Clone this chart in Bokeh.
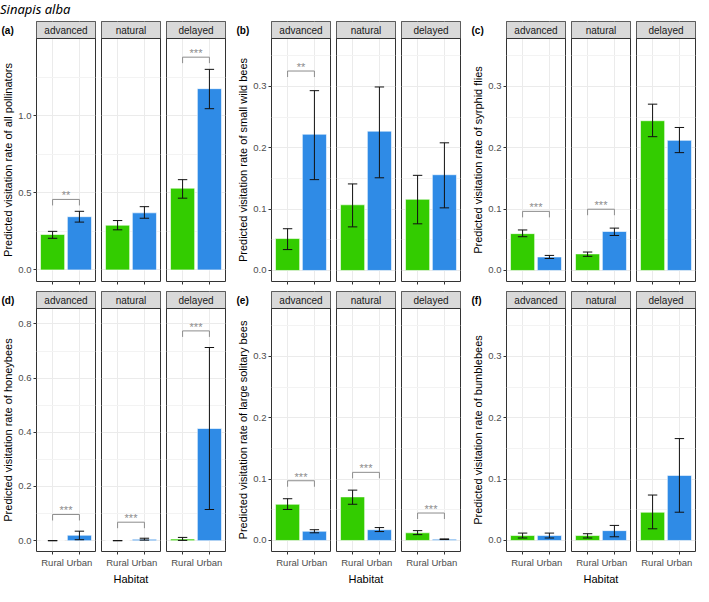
import math
from bokeh.plotting import figure
from bokeh.layouts import row, column
from bokeh.models import (Range1d, FixedTicker, Div, ColumnDataSource,
                          PrintfTickFormatter)
from bokeh.embed import file_html
from bokeh.resources import INLINE
from bokeh.core.properties import value

# ---------------- data ----------------
phases = ["advanced", "natural", "delayed"]
habitats = ["Rural", "Urban"]
colors = ["#33CC00", "#2F8BE6"]

# order: advanced-Rural, advanced-Urban, natural-Rural, natural-Urban, delayed-Rural, delayed-Urban
a_mean = [0.23, 0.345, 0.29, 0.37, 0.53, 1.175]
a_low = [0.205, 0.31, 0.26, 0.335, 0.465, 1.045]
a_high = [0.25, 0.38, 0.32, 0.41, 0.585, 1.30]
a_sig_phase = ["advanced", "delayed"]
a_sig_text = ["**", "***"]
a_sig_y = [0.457, 1.379]

b_mean = [0.052, 0.222, 0.107, 0.227, 0.116, 0.156]
b_low = [0.034, 0.148, 0.071, 0.151, 0.076, 0.102]
b_high = [0.068, 0.293, 0.141, 0.299, 0.155, 0.208]
b_sig_phase = ["advanced"]
b_sig_text = ["**"]
b_sig_y = [0.325]

c_mean = [0.060, 0.022, 0.027, 0.0635, 0.244, 0.212]
c_low = [0.055, 0.0195, 0.023, 0.057, 0.218, 0.192]
c_high = [0.066, 0.0245, 0.030, 0.069, 0.271, 0.233]
c_sig_phase = ["advanced", "natural"]
c_sig_text = ["***", "***"]
c_sig_y = [0.0963, 0.0998]

d_mean = [0.0, 0.020, 0.0, 0.005, 0.006, 0.414]
d_low = [0.0, 0.0035, 0.0, 0.002, 0.001, 0.115]
d_high = [0.0, 0.035, 0.0, 0.009, 0.012, 0.713]
d_sig_phase = ["advanced", "natural", "delayed"]
d_sig_text = ["***", "***", "***"]
d_sig_y = [0.0967, 0.0682, 0.7743]

e_mean = [0.059, 0.015, 0.071, 0.0175, 0.0125, 0.002]
e_low = [0.0505, 0.0125, 0.059, 0.0145, 0.0095, 0.0015]
e_high = [0.068, 0.0175, 0.082, 0.021, 0.016, 0.0025]
e_sig_phase = ["advanced", "natural", "delayed"]
e_sig_text = ["***", "***", "***"]
e_sig_y = [0.0973, 0.111, 0.0447]

f_mean = [0.008, 0.008, 0.008, 0.016, 0.046, 0.106]
f_low = [0.004, 0.004, 0.004, 0.006, 0.019, 0.046]
f_high = [0.012, 0.012, 0.011, 0.0245, 0.074, 0.166]
f_sig_phase = []
f_sig_text = []
f_sig_y = []

titles = {
    "a": "Predicted visitation rate of all pollinators",
    "b": "Predicted visitation rate of small wild bees",
    "c": "Predicted visitation rate of syrphid flies",
    "d": "Predicted visitation rate of honeybees",
    "e": "Predicted visitation rate of large solitary bees",
    "f": "Predicted visitation rate of bumblebees",
}

# y ranges (min, max) and ticks
y_a = (-0.075, 1.50, [0.0, 0.5, 1.0], [0.25, 0.75, 1.25])
y_small = (-0.018, 0.378, [0.0, 0.1, 0.2, 0.3], [0.05, 0.15, 0.25, 0.35])
y_d = (-0.04, 0.857, [0.0, 0.2, 0.4, 0.6, 0.8], [0.1, 0.3, 0.5, 0.7])

# ---------------- layout constants ----------------
FONT = "Liberation Sans"
FRAME_W = 59
FRAME_H = 260
STRIP_H = 17
GAP = 5
AXIS_W = 19
X0, X1 = 0.4, 2.6
BAR_W = 0.9
CAP_W = 0.35
TIP_PX = 6
SIG_PX = 4
SIDE_W = {"a": 15, "b": 24, "c": 24, "d": 15, "e": 24, "f": 24}


def bottom_border(bottom_row):
    return 33 if bottom_row else 9


def make_side(tag, bottom_row):
    """Narrow strip left of a panel holding the panel tag and the y-axis title."""
    w = SIDE_W[tag]
    p = figure(frame_width=w, frame_height=FRAME_H,
               x_range=Range1d(0, w), y_range=Range1d(0, FRAME_H),
               output_backend="svg", toolbar_location=None,
               x_axis_location=None, y_axis_location=None,
               min_border_left=0, min_border_right=0, min_border_top=1,
               min_border_bottom=bottom_border(bottom_row),
               background_fill_color="white", border_fill_color="white",
               outline_line_color=None)
    p.grid.visible = False
    p.text(x=[w - 14], y=[FRAME_H - STRIP_H / 2], text=["(" + tag + ")"],
           text_align="left", text_baseline="middle",
           text_font=value(FONT), text_font_style="bold",
           text_font_size="10px", text_color="#000000")
    p.text(x=[w - 8], y=[(FRAME_H - STRIP_H) / 2], text=[titles[tag]], angle=math.pi / 2,
           text_align="center", text_baseline="middle",
           text_font=value(FONT), text_font_size="11px", text_color="#000000")
    return p


def make_facet(tag, k, mean, low, high, sig_phase, sig_text, sig_y, yinfo, bottom_row):
    ymin, ymax, majors, minors = yinfo
    phase = phases[k]
    first = (k == 0)
    data_h = FRAME_H - STRIP_H
    per_px = (ymax - ymin) / data_h
    ytop = ymax + STRIP_H * per_px

    p = figure(frame_width=FRAME_W, frame_height=FRAME_H,
               x_range=Range1d(X0, X1), y_range=Range1d(ymin, ytop),
               output_backend="svg", toolbar_location=None,
               y_axis_location="left" if first else None,
               min_border_left=AXIS_W if first else GAP,
               min_border_right=1, min_border_top=1,
               min_border_bottom=bottom_border(bottom_row),
               background_fill_color="white", border_fill_color="white",
               outline_line_color="#333333", outline_line_width=1)

    # grids
    p.ygrid.ticker = FixedTicker(ticks=majors, minor_ticks=minors)
    p.ygrid.grid_line_color = "#EBEBEB"
    p.ygrid.grid_line_width = 1
    p.ygrid.minor_grid_line_color = "#F3F3F3"
    p.ygrid.minor_grid_line_width = 1
    p.xgrid.ticker = FixedTicker(ticks=[1, 2])
    p.xgrid.grid_line_color = "#EBEBEB"

    # y axis
    if first:
        ax = p.yaxis[0]
        ax.ticker = FixedTicker(ticks=majors, minor_ticks=[])
        ax.formatter = PrintfTickFormatter(format="%.1f")
        ax.axis_line_color = None
        ax.major_tick_line_color = "#333333"
        ax.major_tick_out = 3
        ax.major_tick_in = 0
        ax.minor_tick_line_color = None
        ax.major_label_text_font = FONT
        ax.major_label_text_font_size = "9.5px"
        ax.major_label_text_color = "#4D4D4D"
        ax.major_label_standoff = 2

    # x axis
    xa = p.xaxis[0]
    xa.ticker = FixedTicker(ticks=[1, 2], minor_ticks=[])
    xa.major_label_overrides = {i + 1: h for i, h in enumerate(habitats)}
    xa.axis_line_color = None
    xa.major_tick_line_color = "#333333"
    xa.major_tick_out = 3
    xa.major_tick_in = 0
    xa.minor_tick_line_color = None
    xa.major_label_text_font = FONT
    xa.major_label_text_color = "#4D4D4D"
    xa.major_label_standoff = 2
    if bottom_row:
        xa.major_label_text_font_size = "9.5px"
        if k == 1:
            xa.axis_label = "Habitat"
            xa.axis_label_text_font = FONT
            xa.axis_label_text_font_size = "11px"
            xa.axis_label_text_font_style = "normal"
            xa.axis_label_text_color = "#000000"
            xa.axis_label_standoff = 2
    else:
        # top row: tick marks only, labels not drawn
        xa.major_label_text_font_size = "1px"
        xa.major_label_text_color = None
        xa.major_label_standoff = 0

    # strip
    p.quad(left=[X0], right=[X1], bottom=[ymax], top=[ytop],
           fill_color="#D9D9D9", line_color=None)
    p.segment(x0=[X0], x1=[X1], y0=[ymax], y1=[ymax], line_color="#333333", line_width=1)
    p.text(x=[(X0 + X1) / 2], y=[(ymax + ytop) / 2], text=[phase],
           text_align="center", text_baseline="middle",
           text_font=value(FONT), text_font_size="10px", text_color="#1A1A1A")

    # bars
    xs = [i + 1 for i in range(len(habitats))]
    src = ColumnDataSource(dict(
        x=xs,
        top=mean[2 * k:2 * k + 2],
        low=low[2 * k:2 * k + 2],
        high=high[2 * k:2 * k + 2],
        cl=[x - CAP_W / 2 for x in xs],
        cr=[x + CAP_W / 2 for x in xs],
        color=colors,
    ))
    p.vbar(x="x", top="top", bottom=0, width=BAR_W, source=src,
           fill_color="color", line_color="white", line_width=0.6)
    p.segment(x0="x", x1="x", y0="low", y1="high", source=src, line_color="#111111", line_width=1)
    p.segment(x0="cl", x1="cr", y0="low", y1="low", source=src, line_color="#111111", line_width=1)
    p.segment(x0="cl", x1="cr", y0="high", y1="high", source=src, line_color="#111111", line_width=1)

    # significance brackets
    for ph, txt, yy in zip(sig_phase, sig_text, sig_y):
        if ph != phase:
            continue
        tip = TIP_PX * per_px
        p.multi_line(xs=[[xs[0], xs[0], xs[1], xs[1]]], ys=[[yy - tip, yy, yy, yy - tip]],
                     line_color="#8C8C8C", line_width=1)
        p.text(x=[(xs[0] + xs[1]) / 2], y=[yy + SIG_PX * per_px], text=[txt],
               text_align="center", text_baseline="alphabetic",
               text_font=value(FONT), text_font_size="11px", text_color="#8C8C8C")
    return p


def make_panel(tag, mean, low, high, sig_phase, sig_text, sig_y, yinfo, bottom_row):
    figs = [make_side(tag, bottom_row)]
    figs += [make_facet(tag, k, mean, low, high, sig_phase, sig_text, sig_y, yinfo, bottom_row)
             for k in range(len(phases))]
    return row(*figs, spacing=0)


pa = make_panel("a", a_mean, a_low, a_high, a_sig_phase, a_sig_text, a_sig_y, y_a, False)
pb = make_panel("b", b_mean, b_low, b_high, b_sig_phase, b_sig_text, b_sig_y, y_small, False)
pc = make_panel("c", c_mean, c_low, c_high, c_sig_phase, c_sig_text, c_sig_y, y_small, False)
pd = make_panel("d", d_mean, d_low, d_high, d_sig_phase, d_sig_text, d_sig_y, y_d, True)
pe = make_panel("e", e_mean, e_low, e_high, e_sig_phase, e_sig_text, e_sig_y, y_small, True)
pf = make_panel("f", f_mean, f_low, f_high, f_sig_phase, f_sig_text, f_sig_y, y_small, True)

title = Div(text="Sinapis alba", width=690, height=20, margin=(0, 0, 0, 0),
            styles={"font-family": "Noto Sans", "font-style": "italic",
                    "font-size": "13px", "color": "#000000", "padding-left": "0px"})

layout = column(title,
                row(pa, pb, pc, spacing=0),
                row(pd, pe, pf, spacing=0),
                spacing=0)

open("out.html", "w").write(file_html(layout, INLINE))
